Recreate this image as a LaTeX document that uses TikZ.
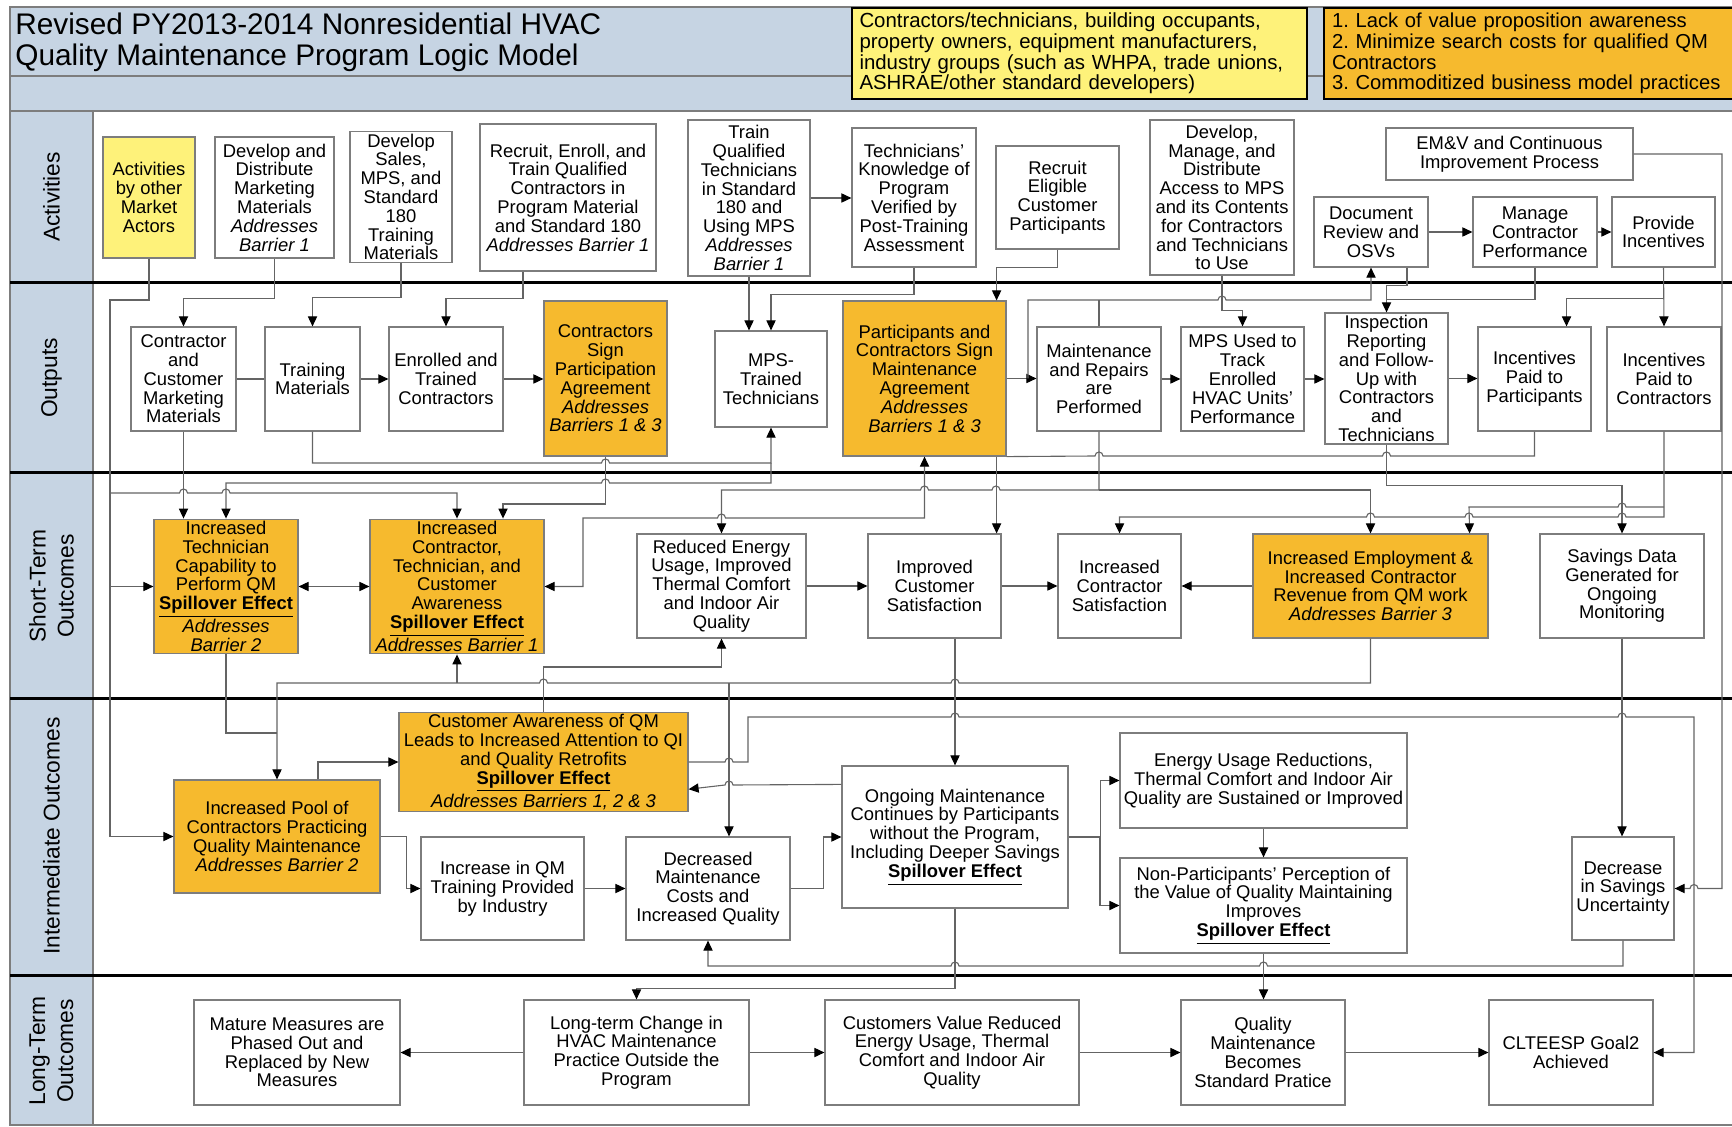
\documentclass[tikz,border=0pt]{standalone}
\usepackage{fontspec}
\setmainfont{Liberation Sans}
\usepackage{xcolor}
\usepackage{tikz}
\usetikzlibrary{arrows.meta,calc}
\frenchspacing
\definecolor{band}{RGB}{198,212,227}
\definecolor{gold}{RGB}{246,186,46}
\definecolor{lemon}{RGB}{254,242,122}
\definecolor{wirec}{RGB}{100,100,100}
\definecolor{rim}{RGB}{125,125,125}
\newcommand{\spill}{\textbf{\underline{Spillover Effect}}}
\newcommand{\hopR}{arc[start angle=180,end angle=360,radius=4]}
\newcommand{\hopL}{arc[start angle=0,end angle=-180,radius=4]}

\begin{document}
\begin{tikzpicture}[x=0.5pt,y=-0.5pt,>={Triangle[length=5pt,width=4.6pt,color=black]},
		box/.style={draw=rim,line width=0.6pt,fill=white,align=center,inner sep=1pt,font=\fontsize{9.2}{9.4}\selectfont},
		goldbox/.style={box,fill=gold},
		wh/.code 2 args={\pgfmathsetmacro\bw{#1*0.5}\pgfmathsetmacro\bh{#2*0.5}\edef\tmp{\noexpand\pgfkeysalso{minimum width=\bw pt,minimum height=\bh pt}}\tmp},
		lane/.style={rotate=90,align=center,font=\fontsize{11.4}{14}\selectfont},
		link/.style={draw=wirec,line width=0.55pt}]
				\useasboundingbox (0,0) rectangle (1732,1127);
				% frame and swim lanes
				\fill[band] (10,7) rectangle (1740,111);
				\fill[band] (10,111) rectangle (93,1125);
				\draw[rim,line width=0.8pt] (10,7) rectangle (1740,1125);
				\draw[rim,line width=0.8pt] (10,76) -- (851,76);
				\draw[rim,line width=0.8pt] (1306,76) -- (1323,76);
				\draw[rim,line width=0.8pt] (10,111) -- (1740,111);
				\draw[rim,line width=0.8pt] (93,111) -- (93,1125);
				\draw[line width=1.5pt] (10,283) -- (1740,283);
				\draw[line width=1.5pt] (10,473) -- (1740,473);
				\draw[line width=1.5pt] (10,698) -- (1740,698);
				\draw[line width=1.5pt] (10,975) -- (1740,975);
				
				\node[anchor=west,align=left,inner sep=0pt,font=\fontsize{14.9}{15.5}\selectfont] (title) at (15,42) {Revised PY2013-2014 Nonresidential HVAC\\Quality Maintenance Program Logic Model};
				\node[draw=black,line width=1pt,fill=lemon,anchor=west,wh={455}{91},text width=220pt,align=left,inner xsep=3.5pt,inner ysep=0pt,font=\fontsize{10.2}{10.3}\selectfont] (actorsList) at (851,53.5) {Contractors/technicians, building occupants,\\property owners, equipment manufacturers,\\industry groups (such as WHPA, trade unions,\\ASHRAE/other standard developers)};
				\node[draw=black,line width=1pt,fill=gold,anchor=west,wh={420}{91},text width=202pt,align=left,inner xsep=2.5pt,inner ysep=0pt,font=\fontsize{10.1}{10.3}\selectfont] (barriers) at (1323,53.5) {1. Lack of value proposition awareness\\2. Minimize search costs for qualified QM\\Contractors\\3. Commoditized business model practices};
				
				\node[lane] (lAct) at (51.5,197) {Activities};
				\node[lane] (lOut) at (51.5,378) {Outputs};
				\node[lane] (lShort) at (51.5,586) {Short-Term\\Outcomes};
				\node[lane] (lMid) at (51.5,836) {Intermediate Outcomes};
				\node[lane] (lLong) at (51.5,1051) {Long-Term\\Outcomes};
				
				% activities
				\node[box,fill=lemon,wh={92}{121}] (actors) at (149,197.5) {Activities\\by other\\Market\\Actors};
				\node[box,wh={119}{121}] (devmkt) at (274.5,197.5) {Develop and\\Distribute\\Marketing\\Materials\\\textit{Addresses}\\\textit{Barrier 1}};
				\node[box,wh={102}{130}] (devsales) at (401,197) {Develop\\Sales,\\MPS, and\\Standard\\180\\Training\\Materials};
				\node[box,wh={176}{147}] (recruit) at (568,197.5) {Recruit, Enroll, and\\Train Qualified\\Contractors in\\Program Material\\and Standard 180\\\textit{Addresses Barrier 1}};
				\node[box,wh={122}{156}] (trainTech) at (749,198) {Train\\Qualified\\Technicians\\in Standard\\180 and\\Using MPS\\\textit{Addresses}\\\textit{Barrier 1}};
				\node[box,wh={124}{139}] (knowledge) at (914,197.5) {Technicians'\\Knowledge of\\Program\\Verified by\\Post-Training\\Assessment};
				\node[box,wh={123}{103}] (recruitCust) at (1057.5,197.5) {Recruit\\Eligible\\Customer\\Participants};
				\node[box,wh={144}{155}] (mpsAccess) at (1222,197.5) {Develop,\\Manage, and\\Distribute\\Access to MPS\\and its Contents\\for Contractors\\and Technicians\\to Use};
				\node[box,wh={247}{52}] (emv) at (1509.5,154) {EM\&V and Continuous\\Improvement Process};
				\node[box,wh={114}{70}] (docRev) at (1371,232) {Document\\Review and\\OSVs};
				\node[box,wh={124}{70}] (manage) at (1535,232) {Manage\\Contractor\\Performance};
				\node[box,wh={103}{70}] (provide) at (1663.5,232) {Provide\\Incentives};
				
				% outputs
				\node[box,wh={105}{104}] (mktMat) at (183.5,379) {Contractor\\and\\Customer\\Marketing\\Materials};
				\node[box,wh={95}{104}] (trainMat) at (312.5,379) {Training\\Materials};
				\node[box,wh={114}{104}] (enrolled) at (446,379) {Enrolled and\\Trained\\Contractors};
				\node[goldbox,wh={123}{155}] (partAgr) at (605.5,378.5) {Contractors\\Sign\\Participation\\Agreement\\\textit{Addresses}\\\textit{Barriers 1 \& 3}};
				\node[box,wh={112}{96}] (mpsTech) at (771,379) {MPS-\\Trained\\Technicians};
				\node[goldbox,wh={163}{155}] (maintAgr) at (924.5,378.5) {Participants and\\Contractors Sign\\Maintenance\\Agreement\\\textit{Addresses}\\\textit{Barriers 1 \& 3}};
				\node[box,wh={124}{104}] (repairs) at (1099,379) {Maintenance\\and Repairs\\are\\Performed};
				\node[box,wh={123}{104}] (mpsTrack) at (1242.5,379) {MPS Used to\\Track\\Enrolled\\HVAC Units'\\Performance};
				\node[box,wh={123}{131}] (inspect) at (1386.5,378.5) {Inspection\\Reporting\\and Follow-\\Up with\\Contractors\\and\\Technicians};
				\node[box,wh={113}{104}] (paidPart) at (1534.5,379) {Incentives\\Paid to\\Participants};
				\node[box,wh={114}{104}] (paidContr) at (1664,379) {Incentives\\Paid to\\Contractors};
				
				% short-term outcomes
				\node[goldbox,wh={144}{131}] (techCap) at (226,586.5) {Increased\\Technician\\Capability to\\Perform QM\\\spill\\\textit{Addresses}\\\textit{Barrier 2}};
				\node[goldbox,wh={174}{131}] (awareness) at (457,586.5) {Increased\\Contractor,\\Technician, and\\Customer\\Awareness\\\spill\\\textit{Addresses Barrier 1}};
				\node[box,wh={169}{104}] (energy) at (721.5,586) {Reduced Energy\\Usage, Improved\\Thermal Comfort\\and Indoor Air\\Quality};
				\node[box,wh={133}{104}] (custSat) at (934.5,586) {Improved\\Customer\\Satisfaction};
				\node[box,wh={123}{104}] (contrSat) at (1119.5,586) {Increased\\Contractor\\Satisfaction};
				\node[goldbox,wh={235}{104}] (employ) at (1370.5,586) {Increased Employment \&\\Increased Contractor\\Revenue from QM work\\\textit{Addresses Barrier 3}};
				\node[box,wh={164}{104}] (savings) at (1622,586) {Savings Data\\Generated for\\Ongoing\\Monitoring};
				
				% intermediate outcomes
				\node[goldbox,wh={206}{113}] (pool) at (277,836.5) {Increased Pool of\\Contractors Practicing\\Quality Maintenance\\\textit{Addresses Barrier 2}};
				\node[goldbox,wh={289}{92}] (custAw) at (543.5,762) {Customer Awareness of QM\\Leads to Increased Attention to QI\\and Quality Retrofits\\\spill\\\textit{Addresses Barriers 1, 2 \& 3}};
				\node[box,wh={163}{103}] (training) at (502.5,888.5) {Increase in QM\\Training Provided\\by Industry};
				\node[box,wh={164}{103}] (decCost) at (708,888.5) {Decreased\\Maintenance\\Costs and\\Increased Quality};
				\node[box,wh={226}{142}] (ongoing) at (955,837) {Ongoing Maintenance\\Continues by Participants\\without the Program,\\Including Deeper Savings\\\spill};
				\node[box,wh={287}{95}] (sustain) at (1263.5,780.5) {Energy Usage Reductions,\\Thermal Comfort and Indoor Air\\Quality are Sustained or Improved};
				\node[box,wh={287}{95}] (nonPart) at (1263.5,905.5) {Non-Participants' Perception of\\the Value of Quality Maintaining\\Improves\\\spill};
				\node[box,wh={102}{103}] (decUnc) at (1623,888.5) {Decrease\\in Savings\\Uncertainty};
				
				% long-term outcomes
				\node[box,wh={206}{105}] (mature) at (297,1052.5) {Mature Measures are\\Phased Out and\\Replaced by New\\Measures};
				\node[box,wh={225}{105}] (change) at (636.5,1052.5) {Long-term Change in\\HVAC Maintenance\\Practice Outside the\\Program};
				\node[box,wh={254}{105}] (valueCust) at (952,1052.5) {Customers Value Reduced\\Energy Usage, Thermal\\Comfort and Indoor Air\\Quality};
				\node[box,wh={164}{105}] (standard) at (1263,1052.5) {Quality\\Maintenance\\Becomes\\Standard Pratice};
				\node[box,wh={164}{105}] (goal) at (1571,1052.5) {CLTEESP Goal2\\Achieved};
				
				% activities to outputs
				\draw[link,->] (actors.south) |- (110,300) -- (110,836.5) -- (pool.west);
				\draw[link,->] (110,586.5) -- (techCap.west);
				\draw[link,->] (110,493) -- (179.5,493) \hopR -- (222,493) \hopR -- (457,493) -- (awareness.north);
				\draw[link,->] (devmkt.south) -- ++(0,40) -| (mktMat.north);
				\draw[link,->] (devsales.south) -- ++(0,35) -| (trainMat.north);
				\draw[link,->] ($(recruit.south)+(-45,0)$) -- ++(0,27) -| (enrolled.north);
				\draw[link,->] (trainTech.south) -- (trainTech.south |- mpsTech.north);
				\draw[link,->] (knowledge.south) -- ++(0,27) -| (mpsTech.north);
				\draw[link,->] (trainTech.east) -- (trainTech.east -| knowledge.west);
				\draw[link,->] (recruitCust.south) -- ++(0,18) -| ($(maintAgr.north east)+(-10,0)$);
				\draw[link,->] (mpsAccess.south) -- ++(0,35) -| (mpsTrack.north);
				\draw[link,->] ($(docRev.south)+(36,0)$) -- ++(0,18) -| (inspect.north);
				\draw[link] (manage.south) |- ($(inspect.north)+(0,-13)$);
				\draw[link,->] (docRev.east) -- (manage.west);
				\draw[link,->] (manage.east) -- (provide.west);
				\draw[link,->] (provide.south) -- (paidContr.north);
				\draw[link,->] (provide.south) -- ++(0,31) -| ($(paidPart.north)+(32,0)$);
				\draw[link,->] (emv.east) -| (1722,888.5) -- (1698,888.5) \hopL -- (decUnc.east);
				
				% outputs
				\coordinate (jrep) at (1028,378.5);%into repairs
				\coordinate (jmps) at (771,463);%below MPS-trained
				\draw[link] (mktMat.east) -- (trainMat.west);
				\draw[link,->] (trainMat.east) -- (enrolled.west);
				\draw[link,->] (enrolled.east) -- (enrolled.east -| partAgr.west);
				\draw[link,->] (maintAgr.east) -- (maintAgr.east -| repairs.west);
				\draw[link,->] (jrep) -- (1028,300) -- (1218,300) \hopR -- (1371,300) -- (docRev.south);
				\draw[link] (repairs.north) -- (1099,300);
				\draw[link,->] (repairs.east) -- (mpsTrack.west);
				\draw[link,->] (mpsTrack.east) -- (mpsTrack.east -| inspect.west);
				\draw[link,->] (inspect.east) -- (inspect.east -| paidPart.west);
				\draw[link,->] (trainMat.south) |- (601.5,463) \hopR -- (jmps) -- (mpsTech.south);
				\draw[link,->] (jmps) -- (771,483) -- (609.5,483) \hopL -- (226,483) -- (techCap.north);
				\draw[link,->] (mktMat.south) -- (mktMat.south |- techCap.north);
				\draw[link,->] (partAgr.south) |- (503,504) -- ($(awareness.north)+(46,0)$);
				\draw[link,<->] (maintAgr.south) -- (924.5,518) -- (725.5,518) \hopL -- (583,518) |- (awareness.east);
				\draw[link,->] ($(maintAgr.south east)+(-10,0)$) -- ($(custSat.north east)+(-5,0)$);
				\draw[link,->] (repairs.south) -- (1099,490) -- (1000,490) \hopL -- (928.5,490) \hopL -- (721.5,490) -- (energy.north);
				\draw[link,->] (1099,490) -- (1370.5,490) -- (employ.north);
				\draw[link,->] (inspect.south) -- ++(0,41) -| (savings.north);
				\draw[link] (paidPart.south) -- (1534.5,456) -- (1390.5,456) \hopL -- (1103,456) \hopL -- (maintAgr.south east);
				\draw[link,->] (paidContr.south) -- (1664,517) -- (1626,517) \hopL -- (1473,517) \hopL -- (1374.5,517) \hopL -- (1119.5,517) -- (contrSat.north);
				\draw[link,->] (1664,507) -- (1626,507) \hopL -- (1469,507) -- ($(employ.north east)+(-19,0)$);
				
				% short-term
				\draw[link,<->] (techCap.east) -- (awareness.west);
				\draw[link,->] (energy.east) -- (custSat.west);
				\draw[link,->] (custSat.east) -- (contrSat.west);
				\draw[link,->] (employ.west) -- (contrSat.east);
				\draw[link,->] (custSat.south -| ongoing.north) -- (ongoing.north);
				\draw[link,->] (employ.south) -- (1370.5,683) -- (959,683) \hopL -- (547.5,683) \hopL -- (277,683) -- (pool.north);
				\draw[link,->] (457,683) -- (awareness.south);
				\draw[link,->] (729,683) -- ($(decCost.north)+(21,0)$);
				\draw[link] (techCap.south) |- (277,733);
				\draw[link,->] (custAw.north) |- (721.5,667) -- (energy.south);
				\draw[link,->] (savings.south) -- (savings.south |- decUnc.north);
				
				% intermediate
				\draw[link,->] ($(pool.north)+(41,0)$) |- (custAw.west);
				\draw[link,->] (pool.east) -- ++(26,0) |- (training.west);
				\draw[link,->] (training.east) -- (decCost.west);
				\draw[link,->] (decCost.east) -- ++(33,0) |- (ongoing.west);
				\draw[link,->] (custAw.east) -- (725,762) \hopR -- (748,762) -- (748,717) -- (951,717) \hopR -- (1618,717) \hopR -- (1694,717) |- (goal.east);
				\draw[link,->] ($(ongoing.north west)+(0,19)$) -- (733,785) \hopL -- ($(custAw.south east)+(0,-23)$);
				\draw[link,->] (ongoing.east) -- ++(32,0) |- (sustain.west);
				\draw[link,->] (1100,837) |- (nonPart.west);
				\draw[link,->] (sustain.south) -- (nonPart.north);
				\draw[link,->] (decUnc.south) -- (1623,966) -- (1267.5,966) \hopL -- (959,966) \hopL -- (708,966) -- (decCost.south);
				\draw[link,->] (nonPart.south) -- (nonPart.south |- standard.north);
				\draw[link,->] (ongoing.south) -- ++(0,80) -| (change.north);
				
				% long-term
				\draw[link,->] (change.west) -- (mature.east);
				\draw[link,->] (change.east) -- (valueCust.west);
				\draw[link,->] (valueCust.east) -- (standard.west);
				\draw[link,->] (standard.east) -- (goal.west);
			\end{tikzpicture}
\end{document}
